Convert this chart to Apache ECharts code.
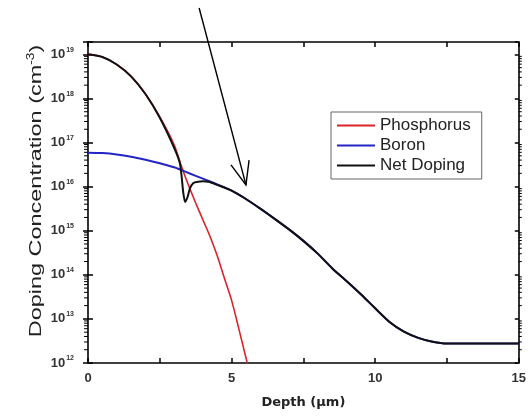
<!DOCTYPE html>
<html>
<head>
<meta charset="utf-8">
<script src="https://cdn.jsdelivr.net/npm/echarts@6/dist/echarts.min.js"></script>
<style>
html,body{margin:0;padding:0;background:#fff;}
#c{width:529px;height:416px;}
</style>
</head>
<body>
<div id="c"></div>
<script>
// ---- data (concentrations given as log10 of cm^-3) ----
const phosphorusDepth = [0,0.5,1,1.5,2,2.5,3,3.25,3.5,3.75,4,4.25,4.5,4.75,5,5.25,5.5,5.6];
const phosphorusLog10 = [19.0,18.94,18.77,18.5,18.1,17.58,16.95,16.47,16.03,15.63,15.25,14.87,14.43,13.92,13.42,12.78,12.12,11.85];

const boronDepth = [0,0.5,1,1.5,2,2.5,3,3.5,4,4.5,5,5.5,6,6.5,7,7.5,8,8.5,9,9.5,10,10.5,11,11.5,12,12.5,13,14,15];
const boronLog10 = [16.77,16.76,16.73,16.68,16.61,16.53,16.44,16.31,16.18,16.05,15.91,15.72,15.5,15.27,15.03,14.77,14.48,14.15,13.86,13.56,13.24,12.93,12.71,12.57,12.48,12.44,12.44,12.44,12.44];

const netDepth = [0,0.5,1,1.5,2,2.5,3,3.2,3.26,3.32,3.38,3.47,3.55,3.67,3.83,4.0,4.2,4.5,5,5.5,6,6.5,7,7.5,8,8.5,9,9.5,10,10.5,11,11.5,12,12.5,13,14,15];
const netLog10 = [19.0,18.94,18.77,18.5,18.1,17.56,16.88,16.53,16.23,15.85,15.65,15.77,15.96,16.08,16.11,16.12,16.11,16.04,15.91,15.72,15.5,15.27,15.03,14.77,14.48,14.15,13.86,13.56,13.24,12.93,12.71,12.57,12.48,12.44,12.44,12.44,12.44];

const seriesNames = ['Phosphorus','Boron','Net Doping'];
const xTickLabels = [0,5,10,15];
const yDecades = [12,13,14,15,16,17,18,19];
const minorMultipliers = [2,3,4,5,6,7,8,9];
// annotation arrow (depth µm, log10 concentration)
const arrowFrom = [3.87, 20.05];
const arrowTo = [5.50, 16.04];

const zip = (xs, ys) => xs.map((x, i) => [x, ys[i]]);
const minorTickData = [];
yDecades.slice(0, -1).forEach(d => minorMultipliers.forEach(k => minorTickData.push([0, d + Math.log10(k)])));

const FONT = 'Liberation Sans, Arial, sans-serif';
// legend icon: a thin horizontal line inside a 38x17 box
const LINE_ICON = 'path://M0,0L0,0.01L0.01,0Z M0,7.6L38,7.6L38,9.6L0,9.6Z M38,17L38,16.99L37.99,17Z';
const chart = echarts.init(document.getElementById('c'), null, {renderer: 'canvas'});

const yCommon = {type: 'value', min: 12, max: 19.28, interval: 1, splitLine: {show: false}};
const xCommon = {type: 'value', min: 0, max: 15, interval: 2.5, splitLine: {show: false}};

chart.setOption({
  animation: false,
  backgroundColor: '#fff',
  grid: {left: 88, right: 5, top: 42, bottom: 53, containLabel: false},
  legend: {
    data: seriesNames.map(n => ({name: n, icon: LINE_ICON})),
    orient: 'vertical',
    left: 331, top: 112,
    padding: [5, 11, 5, 6],
    borderColor: '#666', borderWidth: 1,
    itemWidth: 38, itemHeight: 17, itemGap: 3,
    textStyle: {fontFamily: FONT, fontSize: 17, color: '#222', lineHeight: 17},
    backgroundColor: '#fff'
  },
  xAxis: [
    Object.assign({}, xCommon, {
      position: 'bottom',
      name: 'Depth (μm)', nameLocation: 'middle', nameGap: 33,
      nameTextStyle: {fontFamily: 'DejaVu Sans, sans-serif', fontSize: 13, fontWeight: 'bold', color: '#222'},
      axisLine: {show: true, lineStyle: {color: '#000', width: 1.6}},
      axisTick: {show: true, inside: true, length: 5, lineStyle: {color: '#000', width: 1.5}},
      axisLabel: {
        margin: 9, fontFamily: FONT, fontSize: 13, fontWeight: 'bold', color: '#333',
        formatter: v => xTickLabels.indexOf(v) >= 0 ? String(v) : ''
      }
    }),
    Object.assign({}, xCommon, {
      position: 'top',
      axisLine: {show: true, lineStyle: {color: '#000', width: 1.6}},
      axisTick: {show: true, inside: true, length: 5, lineStyle: {color: '#000', width: 1.5}},
      axisLabel: {show: false}
    })
  ],
  yAxis: [
    Object.assign({}, yCommon, {
      position: 'left',
      axisLine: {show: true, lineStyle: {color: '#000', width: 1.6}},
      axisTick: {show: true, inside: false, length: 5, lineStyle: {color: '#000', width: 1.5}},
      axisLabel: {
        margin: 14, color: '#333',
        formatter: v => Number.isInteger(v) && yDecades.indexOf(v) >= 0 ? '{b|10}{s|' + v + '}' : '',
        rich: {
          b: {fontFamily: FONT, fontSize: 13, fontWeight: 'bold', color: '#333'},
          s: {fontFamily: FONT, fontSize: 7, fontWeight: 'bold', color: '#333', padding: [0, 0, 9, 1]}
        }
      }
    }),
    Object.assign({}, yCommon, {
      position: 'left',
      axisLine: {show: false},
      axisTick: {show: true, inside: true, length: 5, lineStyle: {color: '#000', width: 1.5}},
      axisLabel: {show: false}
    }),
    Object.assign({}, yCommon, {
      position: 'right',
      axisLine: {show: true, lineStyle: {color: '#000', width: 1.6}},
      axisTick: {show: true, inside: true, length: 4, lineStyle: {color: '#000', width: 1.5}},
      axisLabel: {show: false}
    })
  ],
  series: [
    {
      name: seriesNames[0], type: 'line', data: zip(phosphorusDepth, phosphorusLog10),
      symbol: 'none', smooth: 0.3, clip: true, z: 2,
      lineStyle: {color: '#dc2329', width: 1.6}, itemStyle: {color: '#dc2329'}
    },
    {
      name: seriesNames[1], type: 'line', data: zip(boronDepth, boronLog10),
      symbol: 'none', smooth: 0.3, clip: true, z: 3,
      lineStyle: {color: '#2424c4', width: 2}, itemStyle: {color: '#2424c4'}
    },
    {
      name: seriesNames[2], type: 'line', data: zip(netDepth, netLog10),
      symbol: 'none', smooth: 0.2, clip: true, z: 4,
      lineStyle: {color: '#111', width: 2}, itemStyle: {color: '#111'}
    },
    {
      name: 'minorTicks', type: 'custom', data: minorTickData, clip: false, silent: true, z: 5,
      encode: {x: 0, y: 1},
      renderItem: (params, api) => {
        const pL = api.coord([0, api.value(1)]);
        const pR = api.coord([15, api.value(1)]);
        return {type: 'group', children: [
          {type: 'line', shape: {x1: pL[0] - 4, y1: pL[1], x2: pL[0], y2: pL[1]}, style: {stroke: '#000', lineWidth: 1}},
          {type: 'line', shape: {x1: pR[0], y1: pR[1], x2: pR[0] + 3, y2: pR[1]}, style: {stroke: '#000', lineWidth: 1}}
        ]};
      }
    }
  ]
});

// annotation arrow and y-axis title
const p0 = chart.convertToPixel({gridIndex: 0}, arrowFrom);
const p1 = chart.convertToPixel({gridIndex: 0}, arrowTo);
const ang = Math.atan2(p0[1] - p1[1], p0[0] - p1[0]);
const headLen = 25, headAng = 22 * Math.PI / 180;
const w1 = [p1[0] + headLen * Math.cos(ang - headAng), p1[1] + headLen * Math.sin(ang - headAng)];
const w2 = [p1[0] + headLen * Math.cos(ang + headAng), p1[1] + headLen * Math.sin(ang + headAng)];

chart.setOption({
  graphic: [
    {type: 'line', z: 100, shape: {x1: p0[0], y1: p0[1], x2: p1[0], y2: p1[1]}, style: {stroke: '#000', lineWidth: 1.4}},
    {type: 'polyline', z: 100, shape: {points: [w1, p1, w2]}, style: {stroke: '#000', lineWidth: 1.4, fill: null}},
    {
      type: 'text', z: 100, x: 36, y: 191, rotation: Math.PI / 2, scaleX: 1.38,
      style: {
        text: '{t|Doping Concentration (cm}{s|-3}{t|)}',
        align: 'center', verticalAlign: 'middle',
        rich: {
          t: {fontFamily: FONT, fontSize: 17, fill: '#222'},
          s: {fontFamily: FONT, fontSize: 10, fill: '#222', padding: [0, 0, 9, 0]}
        }
      }
    }
  ]
});
</script>
</body>
</html>
